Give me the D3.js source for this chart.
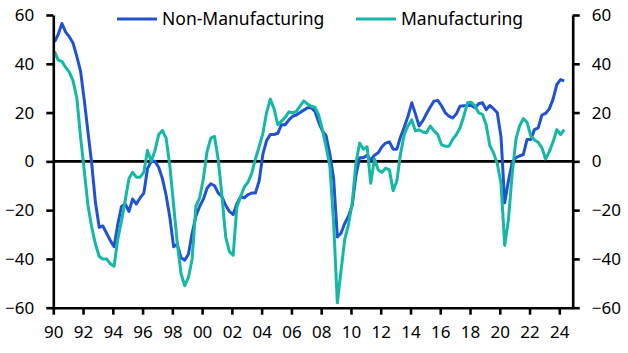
<!DOCTYPE html>
<html>
<head>
<meta charset="utf-8">
<script src="https://cdn.jsdelivr.net/npm/d3@7"></script>
<style>
  body { margin: 0; background: #fff; }
  text { font-family: "Noto Sans", sans-serif; fill: #000; }
</style>
</head>
<body>
<svg id="chart" width="628" height="353"></svg>
<script>
// quarterly balances, 1990Q1 .. 2024Q2
const nonManufacturing = [
  49, 52, 56.5, 53, 51, 48.5, 43, 37, 25, 12,
  -1, -17, -27, -26.5, -29.5, -32.5, -35, -26, -18.5, -17.5,
  -20.5, -15.5, -17.5, -15, -13, -3, 0, 0, -2.5, -7,
  -14, -23, -35, -34, -39.5, -40.5, -38, -29.5, -22.5, -18.5,
  -15.5, -11, -9.2, -10, -13, -14.5, -18, -20.5, -21.8, -17.5,
  -14.5, -15, -13.6, -13, -13, -8, 3, 8.5, 11, 11,
  11.5, 15, 15, 17, 18.5, 19, 20, 21, 22, 22,
  20.5, 16, 12.5, 10.5, 3, -7, -31, -29.5, -25.5, -22.5,
  -18, -6, 1.5, 1.5, 2.5, 0.5, 2.5, 3.5, 6, 7.5,
  8, 5, 5, 10, 14, 18.5, 24, 19.5, 14.5, 16.7,
  19.6, 22.3, 24.7, 25, 22.8, 20, 18.5, 17.8, 19.5, 22.6,
  22.8, 22.9, 22.9, 22, 23.6, 24, 21.2, 22.9, 21.6, 19.9,
  10, -17, -8, -0.5, 1.5, 2.2, 2.8, 9, 9, 13,
  13.7, 19, 19.7, 21.5, 25.5, 31.5, 33.5, 33
];
const manufacturing = [
  45, 41.5, 41, 38.5, 36.5, 33, 26, 10, -4, -18,
  -27, -34, -39, -40, -40, -42, -43, -32, -24.5, -16,
  -7, -4.5, -6.5, -6.5, -4.5, 4.5, 0, 4.5, 11, 12.7,
  9.5, -2, -18, -33.5, -46, -51, -47.5, -40, -18.5, -15,
  -7, 4, 9.5, 10.2, 0.5, -14, -31, -37, -38.5, -19,
  -14.5, -10.5, -8.5, -5, 1, 6, 11.5, 20, 25.5, 21.5,
  15, 16.5, 18, 20.3, 19.9, 20.5, 22.6, 24.8, 23.5, 22.6,
  22.2, 19, 13, 6, -2, -25, -58, -45, -32, -26,
  -17, -1, 7.5, 5, 6, -9, 1, -3.5, -4.5, -2.8,
  -3.5, -12, -8, 3, 11, 14.5, 17, 12.5, 13, 12,
  11.7, 14.5, 12.5, 11, 6.8, 6.2, 6.2, 9, 11, 13.8,
  18.5, 24, 24.2, 22.7, 19.9, 19.3, 15, 6.5, 3.5, -1,
  -9, -34.5, -24, -5, 9, 14.5, 17.5, 16, 10.4, 8.8,
  7.8, 5.5, 1, 4, 8, 13, 11, 13
];
const seriesNames = ['Non-Manufacturing', 'Manufacturing'];
const seriesColors = ['#2152d1', '#15b8a4'];
const yTicks = [-60, -40, -20, 0, 20, 40, 60];
const xTickYears = [1990, 1992, 1994, 1996, 1998, 2000, 2002, 2004, 2006, 2008,
  2010, 2012, 2014, 2016, 2018, 2020, 2022, 2024];

const width = 628;
const height = 353;
const margin = { top: 15, right: 55.3, bottom: 45.3, left: 53.3 };

const svg = d3.select('#chart');

// middle month of each quarter
const quarters = nonManufacturing.map((d, i) => new Date(1990, 3 * i + 1, 1));

const x = d3.scaleTime()
  .domain([new Date(1990, 0, 1), new Date(2024, 10, 25)])
  .range([margin.left, width - margin.right]);

const y = d3.scaleLinear()
  .domain([-60, 60])
  .range([height - margin.bottom, margin.top]);

// zero line
svg.append('line')
  .attr('x1', x.range()[0]).attr('x2', x.range()[1])
  .attr('y1', y(0)).attr('y2', y(0))
  .attr('stroke', '#000').attr('stroke-width', 2.6);

const line = d3.line()
  .x((d, i) => x(quarters[i]))
  .y(d => y(d));

[nonManufacturing, manufacturing].forEach((s, k) => {
  svg.append('path')
    .datum(s)
    .attr('fill', 'none')
    .attr('stroke', seriesColors[k])
    .attr('stroke-width', 3)
    .attr('stroke-linejoin', 'round')
    .attr('d', line);
});

function styleAxis(g) {
  g.select('.domain').attr('stroke-width', 2.6);
  g.selectAll('.tick line').attr('stroke-width', 2.6);
  g.selectAll('.tick text').style('font-size', '17px').attr('fill', '#000');
}

svg.append('g')
  .attr('transform', `translate(${x.range()[0]},0)`)
  .call(d3.axisLeft(y).tickValues(yTicks).tickSize(7).tickSizeOuter(0).tickPadding(12))
  .call(styleAxis);

svg.append('g')
  .attr('transform', `translate(${x.range()[1]},0)`)
  .call(d3.axisRight(y).tickValues(yTicks).tickSize(7).tickSizeOuter(0).tickPadding(12))
  .call(styleAxis);

svg.append('g')
  .attr('transform', `translate(0,${y(-60)})`)
  .call(d3.axisBottom(x)
    .tickValues(xTickYears.map(yr => new Date(yr, 0, 1)))
    .tickFormat(d3.timeFormat('%y'))
    .tickSize(7).tickSizeOuter(0).tickPadding(11))
  .call(styleAxis);

// legend
const legendX = [117, 356];
seriesNames.forEach((name, k) => {
  svg.append('line')
    .attr('x1', legendX[k]).attr('x2', legendX[k] + 40)
    .attr('y1', 19).attr('y2', 19)
    .attr('stroke', seriesColors[k]).attr('stroke-width', 3);
  svg.append('text')
    .attr('x', legendX[k] + 45)
    .attr('y', 19)
    .attr('dy', '0.35em')
    .style('font-size', '17.5px')
    .text(name);
});
</script>
</body>
</html>
